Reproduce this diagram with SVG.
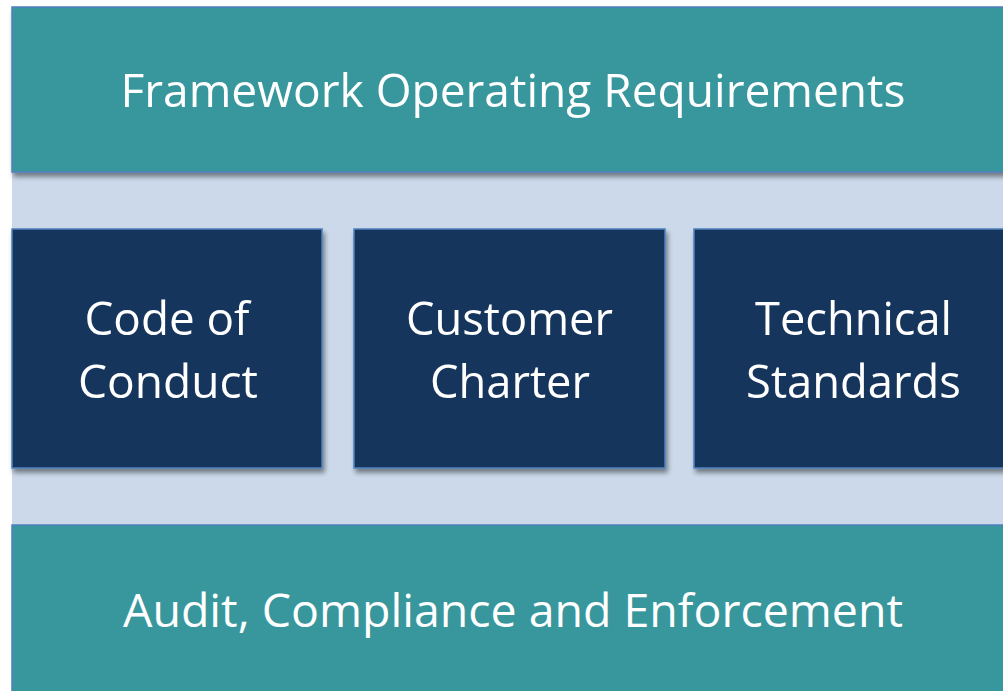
<svg xmlns="http://www.w3.org/2000/svg" width="1003" height="691" viewBox="0 0 1003 691">
<defs>
<filter id="sh" x="-5%" y="-5%" width="115%" height="120%">
<feGaussianBlur in="SourceAlpha" stdDeviation="2.5"/>
<feOffset dx="2" dy="4" result="b"/>
<feComponentTransfer><feFuncA type="linear" slope="0.45"/></feComponentTransfer>
<feMerge><feMergeNode/><feMergeNode in="SourceGraphic"/></feMerge>
</filter>
<style>
.teal{fill:#38979d;stroke:#4f7fbf;stroke-width:1.5}
.navy{fill:#17365d;stroke:#4f81bd;stroke-width:1.5}
.panel{fill:#cbd9ea}
text{font-family:"Open Sans","Noto Sans",sans-serif;fill:#ffffff;text-anchor:middle}
.big{font-size:46px}
.mid{font-size:46px}
</style>
</defs>
<rect width="1003" height="691" fill="#ffffff"/>
<rect class="panel" x="12" y="170" width="1000" height="358"/>
<g id="framework" filter="url(#sh)">
<rect class="teal" x="12" y="7" width="1000" height="165"/>
<text class="big" x="513" y="107" textLength="785" lengthAdjust="spacingAndGlyphs">Framework Operating Requirements</text>
</g>
<g id="code-of-conduct" filter="url(#sh)">
<rect class="navy" x="12" y="229" width="310" height="239"/>
<text class="mid" x="167" y="335" textLength="165" lengthAdjust="spacingAndGlyphs">Code of</text>
<text class="mid" x="168" y="398" textLength="180" lengthAdjust="spacingAndGlyphs">Conduct</text>
</g>
<g id="customer-charter" filter="url(#sh)">
<rect class="navy" x="354" y="229" width="311" height="239"/>
<text class="mid" x="509.5" y="335" textLength="207" lengthAdjust="spacingAndGlyphs">Customer</text>
<text class="mid" x="510" y="398" textLength="160" lengthAdjust="spacingAndGlyphs">Charter</text>
</g>
<g id="technical-standards" filter="url(#sh)">
<rect class="navy" x="694" y="229" width="320" height="239"/>
<text class="mid" x="853.5" y="335" textLength="197" lengthAdjust="spacingAndGlyphs">Technical</text>
<text class="mid" x="853.5" y="398" textLength="215" lengthAdjust="spacingAndGlyphs">Standards</text>
</g>
<g id="audit" >
<rect class="teal" x="12" y="525" width="1000" height="180"/>
<text class="big" x="513" y="627" textLength="780" lengthAdjust="spacingAndGlyphs">Audit, Compliance and Enforcement</text>
</g>
<g id="connectors"/>
</svg>
